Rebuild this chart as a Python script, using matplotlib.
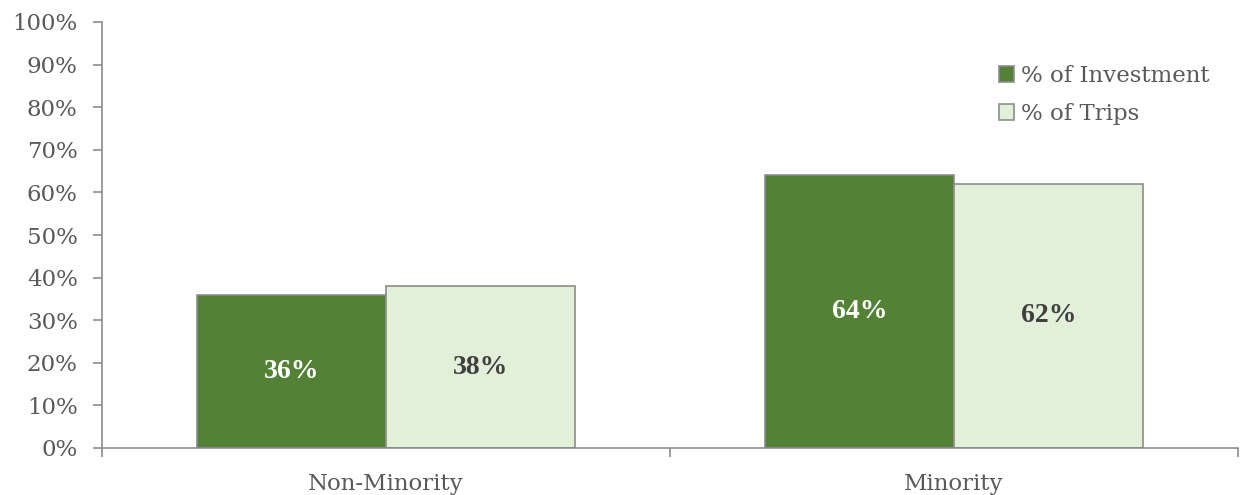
import numpy as np
import matplotlib.pyplot as plt
from matplotlib.ticker import FuncFormatter, FixedLocator

categories = ['Non-Minority', 'Minority']
investment = [36, 64]
trips = [38, 62]
series_names = ['% of Investment', '% of Trips']

plt.rcParams['font.family'] = ['DejaVu Serif']

dark = '#538135'
light = '#E2EFD9'
edge = '#8C8C8C'
txt = '#595959'

fig = plt.figure(figsize=(12.43, 4.95), dpi=100)
ax = fig.add_axes([102 / 1243, 47 / 495, 1136 / 1243, 426 / 495])

x = np.arange(len(categories))
w = 0.333
b1 = ax.bar(x - w / 2, investment, w, color=dark, edgecolor=edge, linewidth=1.2, label=series_names[0])
b2 = ax.bar(x + w / 2, trips, w, color=light, edgecolor=edge, linewidth=1.2, label=series_names[1])

lab_font = ['Liberation Serif', 'DejaVu Serif']
for rect, v in zip(b1, investment):
    ax.text(rect.get_x() + rect.get_width() / 2, v / 2, f'{v}%', ha='center', va='center',
            color='white', fontsize=20, fontweight='bold', family=lab_font)
for rect, v in zip(b2, trips):
    ax.text(rect.get_x() + rect.get_width() / 2, v / 2, f'{v}%', ha='center', va='center',
            color='#404040', fontsize=20, fontweight='bold', family=lab_font)

ax.set_xlim(-0.5, 1.5)
ax.set_ylim(0, 100)
ax.set_yticks(range(0, 101, 10))
ax.yaxis.set_major_formatter(FuncFormatter(lambda v, p: f'{int(v)}%'))
ax.xaxis.set_major_locator(FixedLocator([-0.5, 0.5, 1.5]))
ax.set_xticklabels([])
ax.xaxis.set_minor_locator(FixedLocator(x))
ax.set_xticklabels(categories, minor=True)
ax.tick_params(axis='x', which='minor', length=0, pad=18, labelsize=16.5, labelcolor=txt)
ax.tick_params(axis='x', which='major', length=6.5, color=edge, width=1.2)
ax.tick_params(axis='y', length=6.5, color=edge, width=1.2, labelsize=16.5, labelcolor=txt, pad=11)

for s in ['top', 'right']:
    ax.spines[s].set_visible(False)
for s in ['left', 'bottom']:
    ax.spines[s].set_color(edge)
    ax.spines[s].set_linewidth(1.2)

leg = fig.legend(handles=[b1, b2], labels=series_names, loc='upper left',
                 bbox_to_anchor=(999 / 1243, 1 - 65 / 495), frameon=False, fontsize=16.5,
                 handlelength=0.65, handleheight=0.65, handletextpad=0.3, labelspacing=0.7,
                 borderpad=0, borderaxespad=0)
for t in leg.get_texts():
    t.set_color(txt)

fig.savefig('out.png', dpi=100)
